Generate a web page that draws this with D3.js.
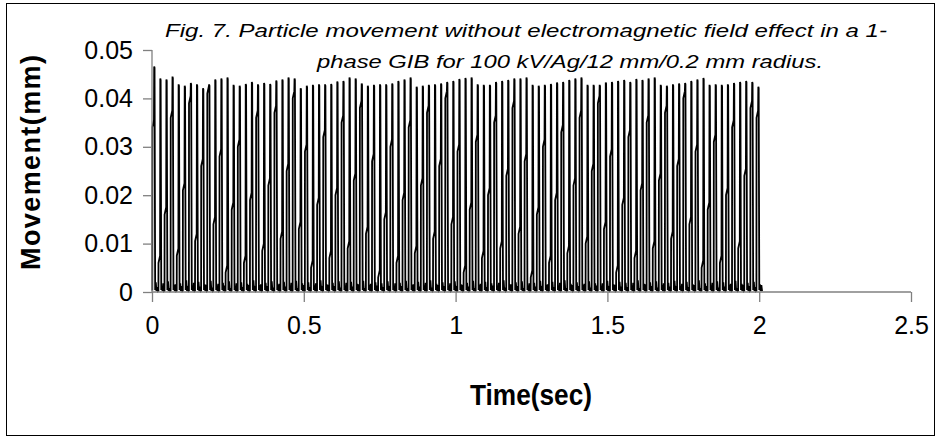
<!DOCTYPE html>
<html><head><meta charset="utf-8">
<script src="https://cdn.jsdelivr.net/npm/d3@7"></script>
<style>body{margin:0;background:#fff}</style>
</head><body>
<script>
const titleLines = ["Fig. 7. Particle movement without electromagnetic field effect in a 1-",
                    "phase GIB for 100 kV/Ag/12 mm/0.2 mm radius."];
const xTicks = [0, 0.5, 1, 1.5, 2, 2.5];
const yTicks = [0, 0.01, 0.02, 0.03, 0.04, 0.05];
const xLabel = "Time(sec)";
const yLabel = "Movement(mm)";
const period = 0.0201;
// peak height of each bounce (mm)
const peaks = [0.0466,0.0441,0.0439,0.0445,0.0429,0.0426,0.0432,0.0429,0.0421,0.0429,0.0439,0.0441,0.0443,0.0428,0.0426,0.0430,0.0434,0.0429,0.0432,0.0430,
0.0437,0.0439,0.0443,0.0441,0.0421,0.0426,0.0428,0.0429,0.0429,0.0430,0.0435,0.0436,0.0443,0.0441,0.0431,0.0426,0.0428,0.0429,0.0429,0.0431,
0.0436,0.0439,0.0443,0.0424,0.0426,0.0428,0.0429,0.0431,0.0434,0.0436,0.0440,0.0442,0.0443,0.0429,0.0428,0.0428,0.0434,0.0436,0.0438,0.0441,
0.0441,0.0443,0.0428,0.0426,0.0428,0.0430,0.0433,0.0434,0.0438,0.0441,0.0443,0.0428,0.0428,0.0428,0.0433,0.0434,0.0436,0.0438,0.0434,0.0440,
0.0438,0.0441,0.0443,0.0428,0.0426,0.0429,0.0431,0.0432,0.0436,0.0439,0.0442,0.0428,0.0429,0.0428,0.0429,0.0432,0.0434,0.0436,0.0434,0.0424];
// intermediate sample on the rising edge of each bounce (mm)
const jogs = [0.034,0.006,0.016,0.036,0.0075,0.021,0.039,0.0105,0.026,0.041,0.014,0.028,0.004,0.017,0.030,0.006,0.019,0.036,0.0085,0.022,
0.037,0.011,0.025,0.040,0.013,0.029,0.005,0.018,0.032,0.007,0.020,0.035,0.009,0.023,0.038,0.012,0.027,0.003,0.015,0.030,
0.006,0.019,0.034,0.008,0.022,0.037,0.011,0.026,0.040,0.014,0.029,0.004,0.017,0.031,0.007,0.020,0.035,0.009,0.024,0.038,
0.012,0.027,0.003,0.016,0.030,0.006,0.019,0.033,0.008,0.022,0.036,0.010,0.025,0.039,0.013,0.028,0.004,0.018,0.032,0.007,
0.021,0.035,0.009,0.023,0.037,0.011,0.026,0.040,0.014,0.029,0.005,0.017,0.031,0.006,0.020,0.034,0.009,0.024,0.038,0.036];
// small rebounds near the electrode between bounces (mm)
const rebA = [0.0020,0.0012,0.0022,0.0015,0.0018,0.0024,0.0010,0.0021,0.0016,0.0023,0.0013,0.0019,0.0022,0.0011,0.0020,0.0017,0.0024,0.0014,0.0019,0.0022,
0.0015,0.0021,0.0012,0.0023,0.0018,0.0020,0.0013,0.0024,0.0016,0.0019,0.0022,0.0011,0.0021,0.0017,0.0023,0.0014,0.0020,0.0018,0.0022,0.0012,
0.0019,0.0023,0.0015,0.0021,0.0013,0.0024,0.0017,0.0020,0.0011,0.0022,0.0016,0.0019,0.0023,0.0014,0.0021,0.0018,0.0012,0.0024,0.0016,0.0020,
0.0022,0.0013,0.0019,0.0023,0.0015,0.0021,0.0011,0.0024,0.0017,0.0020,0.0014,0.0022,0.0018,0.0012,0.0023,0.0016,0.0021,0.0019,0.0013,0.0024,
0.0017,0.0020,0.0022,0.0014,0.0019,0.0023,0.0012,0.0021,0.0016,0.0024,0.0018,0.0013,0.0022,0.0020,0.0015,0.0023,0.0017,0.0019,0.0021,0.0016];
const rebB = [0.0010,0.0018,0.0008,0.0016,0.0012,0.0007,0.0019,0.0011,0.0015,0.0009,0.0017,0.0013,0.0008,0.0018,0.0010,0.0014,0.0007,0.0016,0.0012,0.0009,
0.0017,0.0011,0.0019,0.0008,0.0014,0.0010,0.0018,0.0007,0.0015,0.0012,0.0009,0.0019,0.0011,0.0016,0.0008,0.0017,0.0013,0.0010,0.0007,0.0018,
0.0012,0.0008,0.0016,0.0011,0.0019,0.0009,0.0014,0.0012,0.0018,0.0007,0.0015,0.0011,0.0008,0.0017,0.0010,0.0013,0.0019,0.0009,0.0016,0.0012,
0.0008,0.0018,0.0011,0.0007,0.0016,0.0010,0.0019,0.0008,0.0014,0.0012,0.0017,0.0009,0.0013,0.0018,0.0007,0.0015,0.0011,0.0010,0.0019,0.0008,
0.0016,0.0012,0.0009,0.0018,0.0011,0.0007,0.0017,0.0010,0.0014,0.0008,0.0012,0.0019,0.0009,0.0011,0.0017,0.0008,0.0015,0.0012,0.0010,0.0014];

const W = 939, H = 440;
const svg = d3.select("body").append("svg").attr("width", W).attr("height", H)
  .style("font-family", "'Liberation Sans', Arial, sans-serif");

svg.append("rect").attr("x", 6.5).attr("y", 3.5).attr("width", 928).attr("height", 432)
  .attr("fill", "#fff").attr("stroke", "#000").attr("stroke-width", 1);

const x = d3.scaleLinear().domain([0, 2.5]).range([152, 911]);
const y = d3.scaleLinear().domain([0, 0.05]).range([292, 50]);

// build polyline
const pts = [];
peaks.forEach((p, i) => {
  const t0 = 0.001 + i * period;
  pts.push([t0, 0.0003]);
  pts.push([t0 + 0.0003, jogs[i]]);
  pts.push([t0 + 0.0055, Math.min(jogs[i] + 0.0015, p)]);
  pts.push([t0 + 0.0062, p]);
  pts.push([t0 + 0.0074, p - 0.0003]);
  pts.push([t0 + 0.0094, 0.0004]);
  pts.push([t0 + 0.0115, rebA[i]]);
  pts.push([t0 + 0.0138, 0.0002]);
  pts.push([t0 + 0.0162, rebB[i]]);
  pts.push([t0 + 0.0186, 0.0002]);
});

svg.append("path").datum(pts)
  .attr("fill", "none").attr("stroke", "#000").attr("stroke-width", 1.8)
  .attr("stroke-linejoin", "miter")
  .attr("d", d3.line().x(d => x(d[0])).y(d => y(d[1])));

// axes
const xAxis = svg.append("g").attr("transform", `translate(0,${y(0)})`)
  .call(d3.axisBottom(x).tickValues(xTicks).tickSize(10).tickPadding(14).tickFormat(d3.format("")));
const yAxis = svg.append("g").attr("transform", `translate(${x(0)},0)`)
  .call(d3.axisLeft(y).tickValues(yTicks).tickSize(9).tickPadding(10).tickFormat(d => d === 0 ? "0" : d3.format(".2f")(d)));
[xAxis, yAxis].forEach(g => {
  g.selectAll("path, line").attr("stroke", "#808080").attr("stroke-width", 1.3);
  g.select(".domain").attr("d", null);
  g.selectAll("text").attr("fill", "#000").style("font-size", "25px")
    .style("font-family", "'Liberation Sans', Arial, sans-serif");
});
// axis lines
svg.append("line").attr("x1", x(0)).attr("x2", x(2.5)).attr("y1", y(0)).attr("y2", y(0))
  .attr("stroke", "#808080").attr("stroke-width", 1.3);
svg.append("line").attr("x1", x(0)).attr("x2", x(0)).attr("y1", y(0)).attr("y2", y(0.05))
  .attr("stroke", "#808080").attr("stroke-width", 1.3);

// titles
svg.append("text").attr("x", 165).attr("y", 37).text(titleLines[0])
  .style("font-style", "italic").style("font-size", "19px")
  .attr("textLength", 722).attr("lengthAdjust", "spacingAndGlyphs");
svg.append("text").attr("x", 317).attr("y", 68).text(titleLines[1])
  .style("font-style", "italic").style("font-size", "19px")
  .attr("textLength", 506).attr("lengthAdjust", "spacingAndGlyphs");

svg.append("text").attr("x", 470).attr("y", 405)
  .style("font-weight", "bold").style("font-size", "29px")
  .attr("textLength", 122).attr("lengthAdjust", "spacingAndGlyphs").text(xLabel);
svg.append("text").attr("transform", "translate(40,270) rotate(-90)")
  .style("font-weight", "bold").style("font-size", "27px")
  .attr("textLength", 215).attr("lengthAdjust", "spacing").text(yLabel);
</script>
</body></html>
